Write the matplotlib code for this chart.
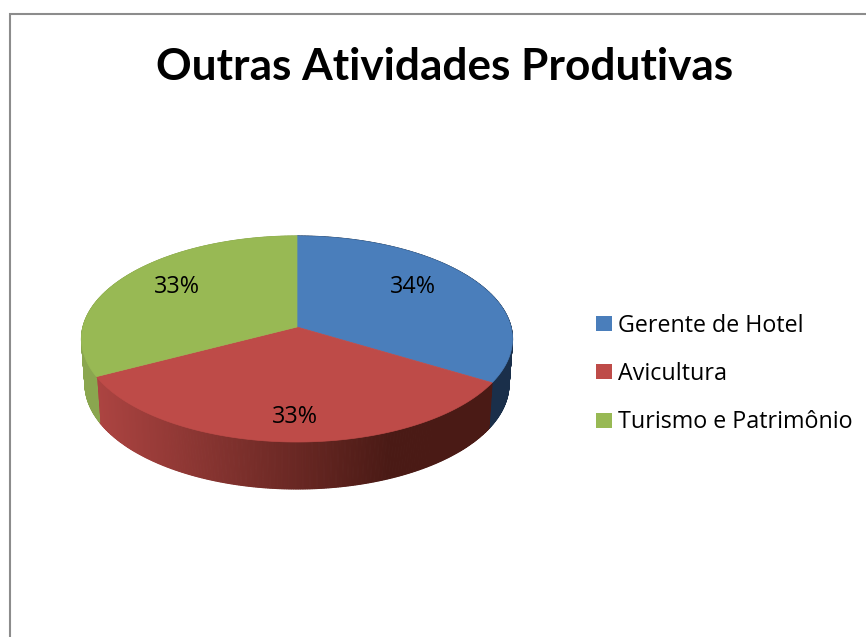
import numpy as np
import matplotlib
matplotlib.use("Agg")
import matplotlib.pyplot as plt
from matplotlib.patches import Polygon, Rectangle
from matplotlib.colors import to_rgb

title = "Outras Atividades Produtivas"
categories = ["Gerente de Hotel", "Avicultura", "Turismo e Patrimônio"]
values = [34, 33, 33]
labels = ["34%", "33%", "33%"]
colors = ["#4A7EBB", "#BE4B48", "#98B954"]
side_dark = ["#1A2F4A", "#4A1A15", "#8AA64F"]

W, H = 866, 637
cx, cy, rx, ry = 297, 339, 215.5, 103
ry_dir = 97
apex_y = 327
cx_b, cy_b, rx_b, ry_b = 297, 384, 212, 105

fig = plt.figure(figsize=(W / 100, H / 100), dpi=100, facecolor="white")
ax = fig.add_axes([0, 0, 1, 1])
ax.set_xlim(0, W)
ax.set_ylim(H, 0)
ax.axis("off")


def rim(theta):
    """Point on the top ellipse reached from the apex along clock angle theta."""
    dx, dy = rx * np.sin(theta), -ry_dir * np.cos(theta)
    oy = apex_y - cy
    a = (dx / rx) ** 2 + (dy / ry) ** 2
    b = 2 * oy * dy / ry ** 2
    c = (oy / ry) ** 2 - 1
    s = (-b + np.sqrt(b * b - 4 * a * c)) / (2 * a)
    return cx + s * dx, apex_y + s * dy


def lower(xs, ys):
    return cx_b + (xs - cx) * rx_b / rx, cy_b + (ys - cy) * ry_b / ry


edges = np.cumsum([0] + values) / sum(values) * 2 * np.pi

# sides
for i in range(len(values)):
    th = np.linspace(edges[i], edges[i + 1], 300)
    xs, ys = rim(th)
    xb, yb = lower(xs, ys)
    top, dark = np.array(to_rgb(colors[i])), np.array(to_rgb(side_dark[i]))
    for j in range(len(th) - 1):
        if i == 1:
            f = np.clip((xs[j] - 100) / 290, 0, 1)
            col = (top * 0.9) * (1 - f) + dark * f
        else:
            col = dark
        px = [xs[j], xs[j + 1], xb[j + 1], xb[j]]
        py = [ys[j], ys[j + 1], yb[j + 1], yb[j]]
        ax.add_patch(Polygon(np.c_[px, py], closed=True, fc=col, ec=col, lw=0.8, zorder=2))

# top faces
for i in range(len(values)):
    th = np.linspace(edges[i], edges[i + 1], 200)
    xs, ys = rim(th)
    pts = np.c_[np.r_[cx, xs], np.r_[apex_y, ys]]
    ax.add_patch(Polygon(pts, closed=True, fc=colors[i], ec=colors[i], lw=0.5, zorder=3))

font = "Open Sans"
label_pos = [(413, 287), (295, 417), (177, 287)]
for (x, y), t in zip(label_pos, labels):
    ax.text(x, y, t, ha="center", va="center", fontsize=16.8, family=font, color="black", zorder=5)

ax.text(445, 67, title, ha="center", va="center", fontsize=31.8, fontweight="bold", family="Lato", color="black")

for y, c, t in zip([323.5, 371.5, 420], colors, categories):
    ax.add_patch(Rectangle((596, y - 7.5), 16, 15, fc=c, ec="none"))
    ax.text(618, y + 2, t, ha="left", va="center", fontsize=16.75, family=font, color="black")

# chart frame
ax.plot([10, 10, W], [H, 14.3, 14.3], color="#8C8C8C", lw=1.5, solid_joinstyle="miter")

fig.savefig("out.png", dpi=100, facecolor="white")
